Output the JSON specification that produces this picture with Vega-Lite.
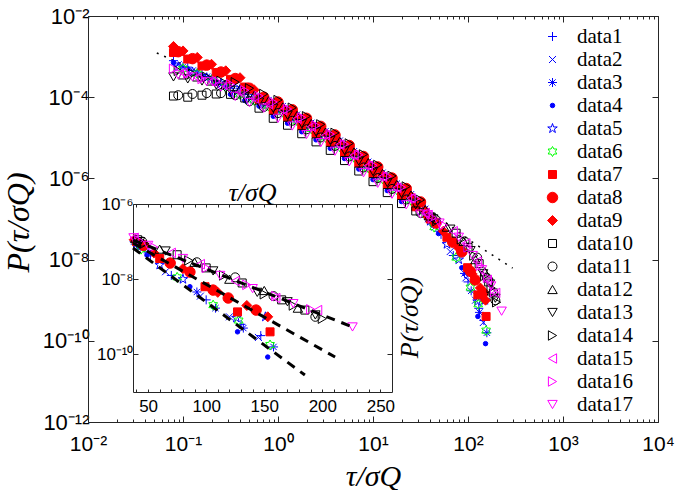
{
"$schema": "https://vega.github.io/schema/vega-lite/v6.json",
"width": 570, "height": 406,
"autosize": {"type": "none"},
"padding": {"left": 88, "top": 16, "right": 17, "bottom": 68},
"config": {
  "background": "white",
  "view": {"stroke": null},
  "axis": {"grid": false, "labelFont": "Liberation Sans", "labelColor": "black", "domainColor": "#262626", "tickColor": "#262626", "domainWidth": 1, "tickWidth": 1, "labelOverlap": false, "labelFlush": false, "titleFont": "Liberation Serif", "titleFontStyle": "italic", "titleFontWeight": "normal", "titleColor": "black"},
  "legend": {"labelFont": "Liberation Serif", "labelFontSize": 21, "labelFontWeight": "normal", "labelColor": "black", "rowPadding": 1, "labelOffset": 14, "symbolStrokeWidth": 1, "padding": 0}
},
"datasets": {
  "dot": [{"t": 0.053, "p": 1.23e-3}, {"t": 0.1, "p": 6.31e-4}, {"t": 0.3162, "p": 1.78e-4}, {"t": 1, "p": 4.47e-5}, {"t": 3.162, "p": 8.91e-6},
          {"t": 10, "p": 1.58e-6}, {"t": 31.62, "p": 2.4e-7}, {"t": 100, "p": 3.16e-8}, {"t": 295, "p": 6.17e-9}],
  "fits": [
    {"fit": "a", "t": 37, "p": 1.10e-7}, {"fit": "a", "t": 226, "p": 5.37e-10},
    {"fit": "b", "t": 37, "p": 9.12e-8}, {"fit": "b", "t": 211, "p": 8.51e-11},
    {"fit": "c", "t": 37, "p": 6.76e-8}, {"fit": "c", "t": 185, "p": 2.82e-11}
  ],
  "pts": [
{"s":"data1","t":0.0794,"p":7.94e-4},{"s":"data1","t":0.1122,"p":5.5e-4},{"s":"data1","t":0.1585,"p":3.63e-4},{"s":"data1","t":0.2239,"p":2.51e-4},
{"s":"data1","t":0.3162,"p":1.66e-4},{"s":"data1","t":0.4467,"p":1.175e-4},{"s":"data1","t":0.631,"p":8.51e-5},{"s":"data1","t":0.891,"p":6.03e-5},
{"s":"data1","t":1.259,"p":4.07e-5},{"s":"data1","t":1.778,"p":2.51e-5},{"s":"data1","t":2.512,"p":1.58e-5},{"s":"data1","t":3.548,"p":9.77e-6},
{"s":"data1","t":5.012,"p":5.5e-6},{"s":"data1","t":7.079,"p":3.02e-6},{"s":"data1","t":10,"p":1.66e-6},{"s":"data1","t":14.13,"p":8.91e-7},
{"s":"data1","t":19.95,"p":4.79e-7},{"s":"data1","t":28.18,"p":2.51e-7},{"s":"data1","t":40,"p":8.91e-8},{"s":"data1","t":52,"p":4.17e-8},
{"s":"data1","t":70,"p":1.26e-8},{"s":"data1","t":100,"p":2.82e-9},{"s":"data1","t":130,"p":6.31e-10},{"s":"data1","t":147,"p":3.16e-10},

{"s":"data2","t":0.0891,"p":6.31e-4},{"s":"data2","t":0.1259,"p":4.47e-4},{"s":"data2","t":0.1778,"p":3.16e-4},{"s":"data2","t":0.2512,"p":2.0e-4},
{"s":"data2","t":0.3548,"p":1.175e-4},{"s":"data2","t":0.5012,"p":8.32e-5},{"s":"data2","t":0.7079,"p":6.03e-5},{"s":"data2","t":1.0,"p":4.27e-5},
{"s":"data2","t":1.413,"p":2.75e-5},{"s":"data2","t":1.995,"p":1.7e-5},{"s":"data2","t":2.818,"p":1.07e-5},{"s":"data2","t":3.981,"p":6.61e-6},
{"s":"data2","t":5.623,"p":3.63e-6},{"s":"data2","t":7.943,"p":1.95e-6},{"s":"data2","t":11.22,"p":1.07e-6},{"s":"data2","t":15.85,"p":5.75e-7},
{"s":"data2","t":22.39,"p":3.16e-7},{"s":"data2","t":31.62,"p":1.48e-7},{"s":"data2","t":45,"p":6.31e-8},{"s":"data2","t":65,"p":1.58e-8},
{"s":"data2","t":95,"p":3.55e-9},{"s":"data2","t":120,"p":1.0e-9},{"s":"data2","t":145,"p":2.82e-10},

{"s":"data3","t":0.1,"p":5.62e-4},{"s":"data3","t":0.1413,"p":3.98e-4},{"s":"data3","t":0.1995,"p":2.82e-4},{"s":"data3","t":0.2818,"p":1.91e-4},
{"s":"data3","t":0.3981,"p":1.66e-4},{"s":"data3","t":0.5623,"p":1.175e-4},{"s":"data3","t":0.7943,"p":8.51e-5},{"s":"data3","t":1.122,"p":6.03e-5},
{"s":"data3","t":1.585,"p":3.72e-5},{"s":"data3","t":2.239,"p":2.34e-5},{"s":"data3","t":3.162,"p":1.45e-5},{"s":"data3","t":4.467,"p":8.51e-6},
{"s":"data3","t":6.31,"p":4.68e-6},{"s":"data3","t":8.913,"p":2.57e-6},{"s":"data3","t":12.59,"p":1.38e-6},{"s":"data3","t":17.78,"p":7.41e-7},
{"s":"data3","t":25.12,"p":4.07e-7},{"s":"data3","t":35.48,"p":1.78e-7},{"s":"data3","t":38,"p":1.0e-7},{"s":"data3","t":50,"p":5.01e-8},
{"s":"data3","t":92,"p":4.57e-9},{"s":"data3","t":108,"p":1.7e-9},{"s":"data3","t":132,"p":5.01e-10},{"s":"data3","t":158,"p":1.58e-10},

{"s":"data4","t":0.0794,"p":7.08e-4},{"s":"data4","t":0.1122,"p":5.01e-4},{"s":"data4","t":0.1585,"p":3.31e-4},{"s":"data4","t":0.2239,"p":2.24e-4},
{"s":"data4","t":0.3162,"p":1.175e-4},{"s":"data4","t":0.4467,"p":8.32e-5},{"s":"data4","t":0.631,"p":6.03e-5},{"s":"data4","t":0.891,"p":3.39e-5},
{"s":"data4","t":1.259,"p":2.29e-5},{"s":"data4","t":1.778,"p":1.41e-5},{"s":"data4","t":2.512,"p":8.91e-6},{"s":"data4","t":3.548,"p":5.5e-6},
{"s":"data4","t":5.012,"p":3.09e-6},{"s":"data4","t":7.079,"p":1.7e-6},{"s":"data4","t":10,"p":9.33e-7},{"s":"data4","t":14.13,"p":5.01e-7},
{"s":"data4","t":19.95,"p":2.69e-7},{"s":"data4","t":28.18,"p":1.78e-7},{"s":"data4","t":42,"p":7.08e-8},{"s":"data4","t":49,"p":4.37e-8},
{"s":"data4","t":86,"p":6.31e-9},{"s":"data4","t":127,"p":3.98e-10},{"s":"data4","t":153,"p":8.51e-11},

{"s":"data5","t":0.0891,"p":5.62e-4},{"s":"data5","t":0.1259,"p":4.17e-4},{"s":"data5","t":0.1778,"p":3.02e-4},{"s":"data5","t":0.2512,"p":2.19e-4},
{"s":"data5","t":0.3548,"p":1.66e-4},{"s":"data5","t":0.5012,"p":1.175e-4},{"s":"data5","t":0.7079,"p":8.51e-5},{"s":"data5","t":1.0,"p":6.03e-5},
{"s":"data5","t":1.413,"p":3.89e-5},{"s":"data5","t":1.995,"p":2.4e-5},{"s":"data5","t":2.818,"p":1.51e-5},{"s":"data5","t":3.981,"p":9.33e-6},
{"s":"data5","t":5.623,"p":5.13e-6},{"s":"data5","t":7.943,"p":2.75e-6},{"s":"data5","t":11.22,"p":1.51e-6},{"s":"data5","t":15.85,"p":8.13e-7},
{"s":"data5","t":22.39,"p":4.47e-7},{"s":"data5","t":31.62,"p":2.09e-7},{"s":"data5","t":40,"p":8.91e-8},{"s":"data5","t":60,"p":2.4e-8},
{"s":"data5","t":80,"p":1.0e-8},{"s":"data5","t":126,"p":9.33e-10},{"s":"data5","t":151,"p":1.0e-9},

{"s":"data6","t":0.1,"p":5.01e-4},{"s":"data6","t":0.1413,"p":3.8e-4},{"s":"data6","t":0.1995,"p":2.63e-4},{"s":"data6","t":0.2818,"p":1.78e-4},
{"s":"data6","t":0.3981,"p":1.175e-4},{"s":"data6","t":0.5623,"p":8.32e-5},{"s":"data6","t":0.7943,"p":6.03e-5},{"s":"data6","t":1.122,"p":4.27e-5},
{"s":"data6","t":1.585,"p":2.63e-5},{"s":"data6","t":2.239,"p":1.66e-5},{"s":"data6","t":3.162,"p":1.02e-5},{"s":"data6","t":4.467,"p":6.03e-6},
{"s":"data6","t":6.31,"p":3.31e-6},{"s":"data6","t":8.913,"p":1.82e-6},{"s":"data6","t":12.59,"p":9.77e-7},{"s":"data6","t":17.78,"p":5.25e-7},
{"s":"data6","t":25.12,"p":2.88e-7},{"s":"data6","t":35.48,"p":1.26e-7},{"s":"data6","t":44,"p":6.31e-8},{"s":"data6","t":75,"p":1.12e-8},
{"s":"data6","t":106,"p":2.04e-9},{"s":"data6","t":128,"p":7.94e-10},{"s":"data6","t":155,"p":1.78e-10},

{"s":"data7","t":0.0794,"p":1.26e-3},{"s":"data7","t":0.1122,"p":8.71e-4},{"s":"data7","t":0.1585,"p":5.89e-4},{"s":"data7","t":0.2239,"p":4.07e-4},
{"s":"data7","t":0.3162,"p":2.75e-4},{"s":"data7","t":0.4467,"p":1.78e-4},{"s":"data7","t":0.631,"p":8.91e-5},{"s":"data7","t":0.891,"p":4.79e-5},
{"s":"data7","t":1.259,"p":3.24e-5},{"s":"data7","t":1.778,"p":2.0e-5},{"s":"data7","t":2.512,"p":1.26e-5},{"s":"data7","t":3.548,"p":7.76e-6},
{"s":"data7","t":5.012,"p":4.37e-6},{"s":"data7","t":7.079,"p":2.4e-6},{"s":"data7","t":10,"p":1.32e-6},{"s":"data7","t":14.13,"p":7.08e-7},
{"s":"data7","t":19.95,"p":3.8e-7},{"s":"data7","t":28.18,"p":2.0e-7},{"s":"data7","t":40,"p":1.0e-7},{"s":"data7","t":60,"p":3.55e-8},
{"s":"data7","t":99,"p":6.31e-9},{"s":"data7","t":127,"p":1.35e-9},{"s":"data7","t":155,"p":3.98e-10},

{"s":"data8","t":0.0891,"p":1.32e-3},{"s":"data8","t":0.1259,"p":8.91e-4},{"s":"data8","t":0.1778,"p":6.17e-4},{"s":"data8","t":0.2512,"p":4.17e-4},
{"s":"data8","t":0.3548,"p":2.88e-4},{"s":"data8","t":0.5012,"p":1.66e-4},{"s":"data8","t":0.7079,"p":1.0e-4},{"s":"data8","t":1.0,"p":7.59e-5},
{"s":"data8","t":1.413,"p":4.9e-5},{"s":"data8","t":1.995,"p":3.02e-5},{"s":"data8","t":2.818,"p":1.91e-5},{"s":"data8","t":3.981,"p":1.175e-5},
{"s":"data8","t":5.623,"p":6.46e-6},{"s":"data8","t":7.943,"p":3.47e-6},{"s":"data8","t":11.22,"p":1.91e-6},{"s":"data8","t":15.85,"p":1.02e-6},
{"s":"data8","t":22.39,"p":5.62e-7},{"s":"data8","t":31.62,"p":2.63e-7},{"s":"data8","t":46,"p":7.94e-8},{"s":"data8","t":69,"p":2.69e-8},
{"s":"data8","t":86,"p":1.55e-8},{"s":"data8","t":106,"p":5.13e-9},{"s":"data8","t":119,"p":3.16e-9},{"s":"data8","t":143,"p":1.51e-9},

{"s":"data9","t":0.0794,"p":1.78e-3},{"s":"data9","t":0.1,"p":1.38e-3},{"s":"data9","t":0.1413,"p":9.55e-4},{"s":"data9","t":0.1995,"p":6.46e-4},
{"s":"data9","t":0.2818,"p":4.47e-4},{"s":"data9","t":0.3981,"p":3.02e-4},{"s":"data9","t":0.5623,"p":1.51e-4},{"s":"data9","t":0.7943,"p":7.59e-5},
{"s":"data9","t":1.122,"p":5.37e-5},{"s":"data9","t":1.585,"p":3.31e-5},{"s":"data9","t":2.239,"p":2.09e-5},{"s":"data9","t":3.162,"p":1.29e-5},
{"s":"data9","t":4.467,"p":7.59e-6},{"s":"data9","t":6.31,"p":4.17e-6},{"s":"data9","t":8.913,"p":2.29e-6},{"s":"data9","t":12.59,"p":1.23e-6},
{"s":"data9","t":17.78,"p":6.61e-7},{"s":"data9","t":25.12,"p":3.63e-7},{"s":"data9","t":35.48,"p":1.58e-7},{"s":"data9","t":38,"p":1.12e-7},
{"s":"data9","t":55,"p":5.01e-8},{"s":"data9","t":80,"p":1.91e-8},{"s":"data9","t":110,"p":4.47e-9},{"s":"data9","t":135,"p":2.0e-9},{"s":"data9","t":153,"p":1.0e-9},

{"s":"data10","t":0.0794,"p":1.07e-4},{"s":"data10","t":0.1122,"p":1.0e-4},{"s":"data10","t":0.1585,"p":1.12e-4},{"s":"data10","t":0.2239,"p":1.2e-4},
{"s":"data10","t":0.3162,"p":1.175e-4},{"s":"data10","t":0.4467,"p":9.55e-5},{"s":"data10","t":0.631,"p":5.37e-5},{"s":"data10","t":0.891,"p":3.02e-5},
{"s":"data10","t":1.259,"p":2.04e-5},{"s":"data10","t":1.778,"p":1.26e-5},{"s":"data10","t":2.512,"p":7.94e-6},{"s":"data10","t":3.548,"p":4.9e-6},
{"s":"data10","t":5.012,"p":2.75e-6},{"s":"data10","t":7.079,"p":1.52e-6},{"s":"data10","t":10,"p":8.32e-7},{"s":"data10","t":14.13,"p":4.47e-7},
{"s":"data10","t":19.95,"p":2.4e-7},{"s":"data10","t":28.18,"p":1.58e-7},{"s":"data10","t":41,"p":1.12e-7},{"s":"data10","t":75,"p":4.47e-8},
{"s":"data10","t":100,"p":2.0e-8},{"s":"data10","t":131,"p":7.94e-9},{"s":"data10","t":165,"p":2.82e-9},{"s":"data10","t":185,"p":1.51e-9},

{"s":"data11","t":0.0891,"p":1.12e-4},{"s":"data11","t":0.1259,"p":1.2e-4},{"s":"data11","t":0.1778,"p":1.26e-4},{"s":"data11","t":0.2512,"p":1.26e-4},
{"s":"data11","t":0.3548,"p":1.12e-4},{"s":"data11","t":0.5012,"p":7.94e-5},{"s":"data11","t":0.7079,"p":5.75e-5},{"s":"data11","t":1.0,"p":4.07e-5},
{"s":"data11","t":1.413,"p":2.63e-5},{"s":"data11","t":1.995,"p":1.62e-5},{"s":"data11","t":2.818,"p":1.02e-5},{"s":"data11","t":3.981,"p":6.31e-6},
{"s":"data11","t":5.623,"p":3.47e-6},{"s":"data11","t":7.943,"p":1.86e-6},{"s":"data11","t":11.22,"p":1.02e-6},{"s":"data11","t":15.85,"p":5.5e-7},
{"s":"data11","t":22.39,"p":3.02e-7},{"s":"data11","t":31.62,"p":1.41e-7},{"s":"data11","t":45,"p":1.0e-7},{"s":"data11","t":92,"p":2.82e-8},
{"s":"data11","t":125,"p":1.12e-8},{"s":"data11","t":158,"p":3.55e-9},{"s":"data11","t":194,"p":1.0e-9},

{"s":"data12","t":0.1,"p":3.55e-4},{"s":"data12","t":0.1413,"p":3.16e-4},{"s":"data12","t":0.1995,"p":2.51e-4},{"s":"data12","t":0.2818,"p":2.09e-4},
{"s":"data12","t":0.3981,"p":1.58e-4},{"s":"data12","t":0.5623,"p":1.12e-4},{"s":"data12","t":0.7943,"p":8.13e-5},{"s":"data12","t":1.122,"p":5.75e-5},
{"s":"data12","t":1.585,"p":3.55e-5},{"s":"data12","t":2.239,"p":2.24e-5},{"s":"data12","t":3.162,"p":1.38e-5},{"s":"data12","t":4.467,"p":8.13e-6},
{"s":"data12","t":6.31,"p":4.47e-6},{"s":"data12","t":8.913,"p":2.45e-6},{"s":"data12","t":12.59,"p":1.32e-6},{"s":"data12","t":17.78,"p":7.08e-7},
{"s":"data12","t":25.12,"p":3.89e-7},{"s":"data12","t":35.48,"p":1.7e-7},{"s":"data12","t":39,"p":1.2e-7},{"s":"data12","t":60,"p":6.31e-8},
{"s":"data12","t":90,"p":2.82e-8},{"s":"data12","t":120,"p":1.0e-8},{"s":"data12","t":150,"p":5.01e-9},{"s":"data12","t":179,"p":1.7e-9},

{"s":"data13","t":0.0794,"p":3.16e-4},{"s":"data13","t":0.1122,"p":2.82e-4},{"s":"data13","t":0.1585,"p":2.51e-4},{"s":"data13","t":0.2239,"p":2.0e-4},
{"s":"data13","t":0.3162,"p":1.48e-4},{"s":"data13","t":0.4467,"p":1.05e-4},{"s":"data13","t":0.631,"p":7.59e-5},{"s":"data13","t":0.891,"p":5.37e-5},
{"s":"data13","t":1.259,"p":3.63e-5},{"s":"data13","t":1.778,"p":2.24e-5},{"s":"data13","t":2.512,"p":1.41e-5},{"s":"data13","t":3.548,"p":8.71e-6},
{"s":"data13","t":5.012,"p":4.9e-6},{"s":"data13","t":7.079,"p":2.69e-6},{"s":"data13","t":10,"p":1.48e-6},{"s":"data13","t":14.13,"p":7.94e-7},
{"s":"data13","t":19.95,"p":4.27e-7},{"s":"data13","t":28.18,"p":2.24e-7},{"s":"data13","t":43,"p":1.0e-7},{"s":"data13","t":65,"p":5.62e-8},
{"s":"data13","t":106,"p":1.66e-8},{"s":"data13","t":144,"p":4.47e-9},{"s":"data13","t":170,"p":2.51e-9},{"s":"data13","t":194,"p":1.12e-9},

{"s":"data14","t":0.0891,"p":4.47e-4},{"s":"data14","t":0.1259,"p":3.8e-4},{"s":"data14","t":0.1778,"p":3.16e-4},{"s":"data14","t":0.2512,"p":2.51e-4},
{"s":"data14","t":0.3548,"p":2.34e-4},{"s":"data14","t":0.5012,"p":1.66e-4},{"s":"data14","t":0.7079,"p":1.2e-4},{"s":"data14","t":1.0,"p":8.51e-5},
{"s":"data14","t":1.413,"p":5.5e-5},{"s":"data14","t":1.995,"p":3.39e-5},{"s":"data14","t":2.818,"p":2.14e-5},{"s":"data14","t":3.981,"p":1.32e-5},
{"s":"data14","t":5.623,"p":7.24e-6},{"s":"data14","t":7.943,"p":3.89e-6},{"s":"data14","t":11.22,"p":2.14e-6},{"s":"data14","t":15.85,"p":1.15e-6},
{"s":"data14","t":22.39,"p":6.31e-7},{"s":"data14","t":31.62,"p":2.95e-7},{"s":"data14","t":47,"p":8.91e-8},{"s":"data14","t":85,"p":3.16e-8},
{"s":"data14","t":115,"p":1.26e-8},{"s":"data14","t":150,"p":3.98e-9},{"s":"data14","t":175,"p":2.0e-9},{"s":"data14","t":200,"p":8.91e-10},

{"s":"data15","t":0.1,"p":3.98e-4},{"s":"data15","t":0.1413,"p":3.02e-4},{"s":"data15","t":0.1995,"p":2.4e-4},{"s":"data15","t":0.2818,"p":1.86e-4},
{"s":"data15","t":0.3981,"p":1.32e-4},{"s":"data15","t":0.5623,"p":9.33e-5},{"s":"data15","t":0.7943,"p":6.76e-5},{"s":"data15","t":1.122,"p":4.79e-5},
{"s":"data15","t":1.585,"p":2.95e-5},{"s":"data15","t":2.239,"p":1.86e-5},{"s":"data15","t":3.162,"p":1.15e-5},{"s":"data15","t":4.467,"p":6.76e-6},
{"s":"data15","t":6.31,"p":3.72e-6},{"s":"data15","t":8.913,"p":2.04e-6},{"s":"data15","t":12.59,"p":1.1e-6},{"s":"data15","t":17.78,"p":5.89e-7},
{"s":"data15","t":25.12,"p":3.24e-7},{"s":"data15","t":35.48,"p":1.41e-7},{"s":"data15","t":38,"p":1.26e-7},{"s":"data15","t":70,"p":5.01e-8},
{"s":"data15","t":95,"p":2.51e-8},{"s":"data15","t":125,"p":8.91e-9},{"s":"data15","t":160,"p":3.16e-9},{"s":"data15","t":196,"p":1.51e-9},

{"s":"data16","t":0.0794,"p":5.01e-4},{"s":"data16","t":0.1122,"p":3.8e-4},{"s":"data16","t":0.1585,"p":2.82e-4},{"s":"data16","t":0.2239,"p":2.51e-4},
{"s":"data16","t":0.3162,"p":2.09e-4},{"s":"data16","t":0.4467,"p":1.48e-4},{"s":"data16","t":0.631,"p":1.07e-4},{"s":"data16","t":0.891,"p":7.59e-5},
{"s":"data16","t":1.259,"p":5.13e-5},{"s":"data16","t":1.778,"p":3.16e-5},{"s":"data16","t":2.512,"p":2.0e-5},{"s":"data16","t":3.548,"p":1.23e-5},
{"s":"data16","t":5.012,"p":6.92e-6},{"s":"data16","t":7.079,"p":3.8e-6},{"s":"data16","t":10,"p":2.09e-6},{"s":"data16","t":14.13,"p":1.12e-6},
{"s":"data16","t":19.95,"p":6.03e-7},{"s":"data16","t":28.18,"p":3.16e-7},{"s":"data16","t":42,"p":1.07e-7},{"s":"data16","t":55,"p":7.08e-8},
{"s":"data16","t":100,"p":2.0e-8},{"s":"data16","t":135,"p":7.08e-9},{"s":"data16","t":160,"p":3.55e-9},{"s":"data16","t":190,"p":1.58e-9},

{"s":"data17","t":0.0891,"p":3.55e-4},{"s":"data17","t":0.1259,"p":3.16e-4},{"s":"data17","t":0.1778,"p":2.4e-4},{"s":"data17","t":0.2512,"p":1.78e-4},
{"s":"data17","t":0.3548,"p":1.05e-4},{"s":"data17","t":0.5012,"p":7.41e-5},{"s":"data17","t":0.7079,"p":5.37e-5},{"s":"data17","t":1.0,"p":3.02e-5},
{"s":"data17","t":1.413,"p":1.95e-5},{"s":"data17","t":1.995,"p":1.2e-5},{"s":"data17","t":2.818,"p":7.59e-6},{"s":"data17","t":3.981,"p":4.68e-6},
{"s":"data17","t":5.623,"p":2.57e-6},{"s":"data17","t":7.943,"p":1.38e-6},{"s":"data17","t":11.22,"p":7.59e-7},{"s":"data17","t":15.85,"p":4.07e-7},
{"s":"data17","t":22.39,"p":2.24e-7},{"s":"data17","t":31.62,"p":1.32e-7},{"s":"data17","t":37.5,"p":1.26e-7},{"s":"data17","t":50,"p":7.94e-8},
{"s":"data17","t":80,"p":3.55e-8},{"s":"data17","t":112,"p":1.26e-8},{"s":"data17","t":140,"p":5.62e-9},{"s":"data17","t":175,"p":2.24e-9},{"s":"data17","t":226,"p":5.37e-10}
  ]
},
"resolve": {"scale": {"x": "independent", "y": "independent"}},
"layer": [
  {
    "resolve": {"axis": {"x": "independent", "y": "independent"}},
    "layer": [
      {
        "data": {"name": "dot"},
        "mark": {"type": "line", "stroke": "black", "strokeWidth": 1.5, "strokeDash": [2, 6]},
        "encoding": {
          "x": {"field": "t", "type": "quantitative", "scale": {"type": "log", "domain": [0.01, 10000], "nice": false},
                "axis": {"orient": "top", "values": [0.01, 0.1, 1, 10, 100, 1000, 10000], "labels": false, "tickSize": -6, "title": null}},
          "y": {"field": "p", "type": "quantitative", "scale": {"type": "log", "domain": [1e-12, 0.01], "nice": false},
                "axis": {"orient": "right", "values": [1e-12, 1e-10, 1e-8, 1e-6, 1e-4, 1e-2], "labels": false, "tickSize": -6, "title": null}}
        }
      },
      {
        "data": {"name": "dot"},
        "mark": {"type": "rule", "opacity": 0},
        "encoding": {
          "x": {"field": "t", "type": "quantitative", "scale": {"type": "log", "domain": [0.01, 10000], "nice": false},
                "axis": {"orient": "bottom", "values": [0.02,0.03,0.04,0.05,0.06,0.07,0.08,0.09,0.2,0.3,0.4,0.5,0.6,0.7,0.8,0.9,2,3,4,5,6,7,8,9,20,30,40,50,60,70,80,90,200,300,400,500,600,700,800,900,2000,3000,4000,5000,6000,7000,8000,9000], "labels": false, "domain": false, "tickSize": -3, "title": null}}
        }
      },
      {
        "data": {"name": "dot"},
        "mark": {"type": "rule", "opacity": 0},
        "encoding": {
          "x": {"field": "t", "type": "quantitative", "scale": {"type": "log", "domain": [0.01, 10000], "nice": false},
                "axis": {"orient": "top", "values": [0.02,0.03,0.04,0.05,0.06,0.07,0.08,0.09,0.2,0.3,0.4,0.5,0.6,0.7,0.8,0.9,2,3,4,5,6,7,8,9,20,30,40,50,60,70,80,90,200,300,400,500,600,700,800,900,2000,3000,4000,5000,6000,7000,8000,9000], "labels": false, "domain": false, "tickSize": -3, "title": null}}
        }
      },
      {
        "data": {"name": "pts"},
        "mark": {"type": "point", "opacity": 1, "strokeWidth": 1},
        "encoding": {
          "x": {"field": "t", "type": "quantitative", "scale": {"type": "log", "domain": [0.01, 10000], "nice": false},
                "axis": {"orient": "bottom", "values": [0.01, 0.1, 1, 10, 100, 1000, 10000], "tickSize": -6, "labelFontSize": 21, "labelPadding": 17,
                         "labelExpr": "'10' + (datum.value < 1 ? '⁻' : '') + (abs(round(log(datum.value) / LN10)) >= 10 ? '¹' : '') + substring('⁰¹²³⁴⁵⁶⁷⁸⁹', abs(round(log(datum.value) / LN10)) % 10, abs(round(log(datum.value) / LN10)) % 10 + 1)",
                         "title": "τ/σQ", "titleFontSize": 30, "titleY": 63, "titleBaseline": "alphabetic"}},
          "y": {"field": "p", "type": "quantitative", "scale": {"type": "log", "domain": [1e-12, 0.01], "nice": false},
                "axis": {"orient": "left", "values": [1e-12, 1e-10, 1e-8, 1e-6, 1e-4, 1e-2], "tickSize": -6, "labelFontSize": 22, "labelPadding": 5,
                         "labelExpr": "'10' + (datum.value < 1 ? '⁻' : '') + (abs(round(log(datum.value) / LN10)) >= 10 ? '¹' : '') + substring('⁰¹²³⁴⁵⁶⁷⁸⁹', abs(round(log(datum.value) / LN10)) % 10, abs(round(log(datum.value) / LN10)) % 10 + 1)",
                         "title": "P(τ/σQ)", "titleFontSize": 32, "titleX": -60, "titleY": 206, "titleAngle": -90, "titleAlign": "center", "titleBaseline": "alphabetic"}},
          "shape": {"field": "s", "type": "nominal", "title": null,
                    "scale": {"domain": ["data1","data2","data3","data4","data5","data6","data7","data8","data9","data10","data11","data12","data13","data14","data15","data16","data17"],
                              "range": ["M-1,0H1M0,-1V1", "M-1,-1L1,1M-1,1L1,-1", "M-1,0H1M0,-1V1M-0.7,-0.7L0.7,0.7M-0.7,0.7L0.7,-0.7", "circle",
                                        "M0,-1L0.225,-0.309L0.951,-0.309L0.363,0.118L0.588,0.809L0,0.382L-0.588,0.809L-0.363,0.118L-0.951,-0.309L-0.225,-0.309Z",
                                        "M0,-1L0.289,-0.5L0.866,-0.5L0.577,0L0.866,0.5L0.289,0.5L0,1L-0.289,0.5L-0.866,0.5L-0.577,0L-0.866,-0.5L-0.289,-0.5Z",
                                        "square", "circle", "diamond", "square", "circle", "triangle-up", "triangle-down", "triangle-right", "triangle-left", "triangle-right", "triangle-down"]},
                    "legend": {"orient": "none", "legendX": 454, "legendY": 10,
                               "encode": {"symbols": {"update": {"fill": {"scale": "fill", "field": "value"}, "stroke": {"scale": "stroke", "field": "value"}, "fillOpacity": {"value": 1}, "strokeOpacity": {"value": 1}}}}}},
          "stroke": {"field": "s", "type": "nominal", "title": null,
                     "scale": {"domain": ["data1","data2","data3","data4","data5","data6","data7","data8","data9","data10","data11","data12","data13","data14","data15","data16","data17"],
                               "range": ["#0000ff","#0000ff","#0000ff","#0000ff","#0000ff","#00ff00","#ff0000","#ff0000","#ff0000","#000000","#000000","#000000","#000000","#000000","#ff00ff","#ff00ff","#ff00ff"]},
                     "legend": {"orient": "none", "legendX": 454, "legendY": 10,
                               "encode": {"symbols": {"update": {"fill": {"scale": "fill", "field": "value"}, "stroke": {"scale": "stroke", "field": "value"}, "fillOpacity": {"value": 1}, "strokeOpacity": {"value": 1}}}}}},
          "fill": {"field": "s", "type": "nominal", "title": null,
                   "scale": {"domain": ["data1","data2","data3","data4","data5","data6","data7","data8","data9","data10","data11","data12","data13","data14","data15","data16","data17"],
                             "range": ["transparent","transparent","transparent","#0000ff","transparent","transparent","#ff0000","#ff0000","#ff0000","transparent","transparent","transparent","transparent","transparent","transparent","transparent","transparent"]},
                   "legend": {"orient": "none", "legendX": 454, "legendY": 10,
                               "encode": {"symbols": {"update": {"fill": {"scale": "fill", "field": "value"}, "stroke": {"scale": "stroke", "field": "value"}, "fillOpacity": {"value": 1}, "strokeOpacity": {"value": 1}}}}}},
          "size": {"field": "s", "type": "nominal", "title": null,
                   "scale": {"type": "ordinal", "domain": ["data1","data2","data3","data4","data5","data6","data7","data8","data9","data10","data11","data12","data13","data14","data15","data16","data17"],
                             "range": [81, 49, 81, 20, 100, 100, 64, 110, 100, 64, 81, 90, 90, 90, 90, 90, 90]},
                   "legend": {"orient": "none", "legendX": 454, "legendY": 10,
                               "encode": {"symbols": {"update": {"fill": {"scale": "fill", "field": "value"}, "stroke": {"scale": "stroke", "field": "value"}, "fillOpacity": {"value": 1}, "strokeOpacity": {"value": 1}}}}}}
        }
      }
    ]
  },
  {
    "resolve": {"axis": {"x": "independent", "y": "independent"}},
    "layer": [
      {
        "data": {"name": "pts"},
        "transform": [{"filter": "datum.t >= 37"}],
        "mark": {"type": "point", "opacity": 1, "strokeWidth": 1},
        "encoding": {
          "x": {"field": "t", "type": "quantitative", "scale": {"domain": [37, 260], "range": [45, 304], "nice": false, "zero": false},
                "axis": {"orient": "bottom", "offset": -30, "values": [40,50,60,70,80,90,100,110,120,130,140,150,160,170,180,190,200,210,220,230,240,250],
                         "labelExpr": "datum.value % 50 == 0 ? datum.label : ''", "tickSize": -3, "labelFontSize": 17, "labelPadding": 9, "title": null}},
          "y": {"field": "p", "type": "quantitative", "scale": {"type": "log", "domain": [1e-11, 1e-6], "range": [376, 188], "nice": false},
                "axis": {"orient": "left", "offset": -45, "values": [1e-10, 1e-8, 1e-6], "tickSize": -5, "labelFontSize": 17, "labelPadding": 5,
                         "labelExpr": "'10' + (datum.value < 1 ? '⁻' : '') + (abs(round(log(datum.value) / LN10)) >= 10 ? '¹' : '') + substring('⁰¹²³⁴⁵⁶⁷⁸⁹', abs(round(log(datum.value) / LN10)) % 10, abs(round(log(datum.value) / LN10)) % 10 + 1)",
                         "title": null}},
          "shape": {"field": "s", "type": "nominal", "legend": null,
                    "scale": {"domain": ["data1","data2","data3","data4","data5","data6","data7","data8","data9","data10","data11","data12","data13","data14","data15","data16","data17"],
                              "range": ["M-1,0H1M0,-1V1", "M-1,-1L1,1M-1,1L1,-1", "M-1,0H1M0,-1V1M-0.7,-0.7L0.7,0.7M-0.7,0.7L0.7,-0.7", "circle",
                                        "M0,-1L0.225,-0.309L0.951,-0.309L0.363,0.118L0.588,0.809L0,0.382L-0.588,0.809L-0.363,0.118L-0.951,-0.309L-0.225,-0.309Z",
                                        "M0,-1L0.289,-0.5L0.866,-0.5L0.577,0L0.866,0.5L0.289,0.5L0,1L-0.289,0.5L-0.866,0.5L-0.577,0L-0.866,-0.5L-0.289,-0.5Z",
                                        "square", "circle", "diamond", "square", "circle", "triangle-up", "triangle-down", "triangle-right", "triangle-left", "triangle-right", "triangle-down"]}},
          "stroke": {"field": "s", "type": "nominal", "legend": null,
                     "scale": {"domain": ["data1","data2","data3","data4","data5","data6","data7","data8","data9","data10","data11","data12","data13","data14","data15","data16","data17"],
                               "range": ["#0000ff","#0000ff","#0000ff","#0000ff","#0000ff","#00ff00","#ff0000","#ff0000","#ff0000","#000000","#000000","#000000","#000000","#000000","#ff00ff","#ff00ff","#ff00ff"]}},
          "fill": {"field": "s", "type": "nominal", "legend": null,
                   "scale": {"domain": ["data1","data2","data3","data4","data5","data6","data7","data8","data9","data10","data11","data12","data13","data14","data15","data16","data17"],
                             "range": ["transparent","transparent","transparent","#0000ff","transparent","transparent","#ff0000","#ff0000","#ff0000","transparent","transparent","transparent","transparent","transparent","transparent","transparent","transparent"]}},
          "size": {"field": "s", "type": "nominal", "legend": null,
                   "scale": {"type": "ordinal", "domain": ["data1","data2","data3","data4","data5","data6","data7","data8","data9","data10","data11","data12","data13","data14","data15","data16","data17"],
                             "range": [81, 49, 81, 20, 100, 100, 64, 110, 100, 64, 81, 90, 90, 90, 90, 90, 90]}}
        }
      },
      {
        "data": {"name": "fits"},
        "mark": {"type": "line", "stroke": "black", "strokeWidth": 3, "strokeDash": [9, 7]},
        "encoding": {
          "detail": {"field": "fit", "type": "nominal"},
          "x": {"field": "t", "type": "quantitative", "scale": {"domain": [37, 260], "range": [45, 304], "nice": false, "zero": false},
                "axis": {"orient": "top", "offset": -188, "values": [40,50,60,70,80,90,100,110,120,130,140,150,160,170,180,190,200,210,220,230,240,250],
                         "labels": false, "tickSize": -3, "title": "τ/σQ", "titleFontSize": 26, "titleX": 164, "titleY": -4, "titleBaseline": "alphabetic"}},
          "y": {"field": "p", "type": "quantitative", "scale": {"type": "log", "domain": [1e-11, 1e-6], "range": [376, 188], "nice": false},
                "axis": {"orient": "right", "offset": -266, "values": [1e-10, 1e-8, 1e-6], "labels": false, "tickSize": -5,
                         "title": "P(τ/σQ)", "titleFontSize": 26, "titleAngle": -90, "titleX": 25, "titleY": 301, "titleAlign": "center", "titleBaseline": "alphabetic"}}
        }
      }
    ]
  }
]
}
